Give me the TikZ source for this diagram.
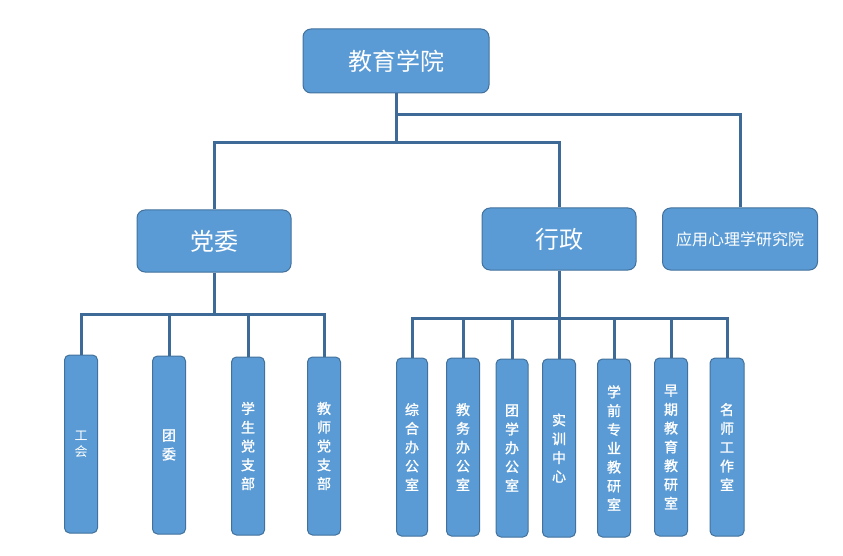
\documentclass[tikz,border=0pt]{standalone}
\usepackage{fontspec}
\newfontfamily\cjk{Noto Sans CJK SC}
\newfontfamily\cjkb[FakeBold=1.2]{Noto Sans CJK SC}
\usetikzlibrary{positioning}
\definecolor{boxfill}{HTML}{5B9BD5}
\definecolor{boxline}{HTML}{41719C}
\definecolor{linkcol}{HTML}{3E6A98}

\begin{document}
\begin{tikzpicture}[x=1pt, y=-1pt,
    box/.style={draw=boxline, fill=boxfill, line width=1pt, text=white, inner sep=0pt, rounded corners=8pt},
    topbox/.style={box, minimum width=154pt, minimum height=62pt, font=\cjk\fontsize{24}{24}\selectfont},
    leafbox/.style={box, rounded corners=5pt, minimum width=33pt, minimum height=178pt, align=center, font=\cjkb\fontsize{14}{18.8}\selectfont},
    link/.style={draw=linkcol, line width=3pt}]
    \useasboundingbox (0,0) rectangle (843,556);

    % Top levels
    \node[topbox, minimum width=186pt, minimum height=64pt] (root) at (396,61) {教育学院};
    \node[topbox] (dangwei) at (214,241) {党委};
    \node[topbox] (xingzheng) at (559,239) {行政};
    \node[topbox, minimum width=155pt, font=\cjk\fontsize{16}{16}\selectfont] (yanjiuyuan) at (740,239) {应用心理学研究院};

    % Party branch
    \node[leafbox, font=\cjk\fontsize{13}{16}\selectfont] (gonghui) at (81,444) {工\\会};
    \node[leafbox] (tuanwei) at (169,445) {团\\委};
    \node[leafbox] (xszb) at (248,446) {学\\生\\党\\支\\部};
    \node[leafbox] (jszb) at (324,446) {教\\师\\党\\支\\部};

    % Administration branch
    \node[leafbox, minimum width=31pt] (zonghe) at (412,447) {综\\合\\办\\公\\室};
    \node[leafbox] (jiaowu) at (463,447) {教\\务\\办\\公\\室};
    \node[leafbox, minimum width=32pt] (tuanxue) at (512,448) {团\\学\\办\\公\\室};
    \node[leafbox] (shixun) at (559,448) {实\\训\\中\\心};
    \node[leafbox] (xueqian) at (614,448) {学\\前\\专\\业\\教\\研\\室};
    \node[leafbox] (zaoqi) at (671,447) {早\\期\\教\\育\\教\\研\\室};
    \node[leafbox, minimum width=34pt] (mingshi) at (727,447) {名\\师\\工\\作\\室};

    % Bus lines
    \coordinate (busA) at (396,115);
    \coordinate (busB) at (396,143);
    \coordinate (dwbus) at (214,314);
    \coordinate (xzbus) at (559,318);

    \draw[link] (root.south) -- (busB);
    \draw[link] (busA) -| (yanjiuyuan.north);
    \draw[link] (dangwei.north) |- (busB) -| (xingzheng.north);

    \draw[link] (dangwei.south) -- (dwbus);
    \draw[link] (gonghui.north) |- (jszb.north |- dwbus) -- (jszb.north);
    \draw[link] (tuanwei.north) -- (tuanwei.north |- dwbus);
    \draw[link] (xszb.north) -- (xszb.north |- dwbus);

    \draw[link] (xingzheng.south) -- (shixun.north);
    \draw[link] (zonghe.north) |- (mingshi.north |- xzbus) -- (mingshi.north);
    \draw[link] (jiaowu.north) -- (jiaowu.north |- xzbus);
    \draw[link] (tuanxue.north) -- (tuanxue.north |- xzbus);
    \draw[link] (xueqian.north) -- (xueqian.north |- xzbus);
    \draw[link] (zaoqi.north) -- (zaoqi.north |- xzbus);
\end{tikzpicture}
\end{document}
